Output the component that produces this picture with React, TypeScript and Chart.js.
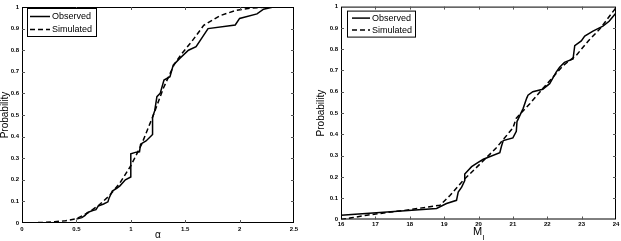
import React, { useEffect, useRef } from "react";
import { Chart, registerables } from "chart.js";

Chart.register(...registerables);

// ---------- Data ----------
const seriesLabels = ["Observed", "Simulated"];

// Left panel: alpha
const alphaObsX = [0.5, 0.55, 0.58, 0.6, 0.65, 0.68, 0.7, 0.75, 0.79, 0.8, 0.83, 0.87, 0.9, 0.95, 1.0, 1.0, 1.05, 1.08, 1.09, 1.14, 1.2, 1.2, 1.22, 1.24, 1.27, 1.305, 1.36, 1.39, 1.45, 1.53, 1.6, 1.64, 1.71, 1.96, 2.0, 2.16, 2.22, 2.31, 2.5];
const alphaObsY = [0.018, 0.025, 0.035, 0.048, 0.058, 0.062, 0.078, 0.088, 0.098, 0.115, 0.148, 0.16, 0.172, 0.2, 0.213, 0.32, 0.328, 0.33, 0.365, 0.38, 0.41, 0.49, 0.52, 0.585, 0.6, 0.662, 0.677, 0.731, 0.762, 0.8, 0.816, 0.847, 0.9, 0.917, 0.947, 0.968, 0.99, 1.0, 1.0];
const alphaSimX = [0.0, 0.1, 0.2, 0.3, 0.4, 0.5, 0.6, 0.7, 0.8, 0.9, 1.0, 1.1, 1.2, 1.3, 1.4, 1.47, 1.56, 1.67, 1.82, 1.97, 2.1, 2.28, 2.5];
const alphaSimY = [0.0, 0.001, 0.003, 0.006, 0.01, 0.02, 0.045, 0.08, 0.125, 0.185, 0.265, 0.365, 0.49, 0.625, 0.735, 0.785, 0.84, 0.915, 0.96, 0.985, 0.995, 1.0, 1.0];
const alphaTicksX = [0, 0.5, 1, 1.5, 2, 2.5];

// Right panel: M_l
const mObsX = [16.0, 18.78, 19.07, 19.36, 19.41, 19.51, 19.6, 19.6, 19.8, 19.99, 20.14, 20.62, 20.67, 20.72, 21.0, 21.1, 21.12, 21.3, 21.4, 21.44, 21.58, 21.87, 22.07, 22.26, 22.36, 22.5, 22.75, 22.8, 22.99, 23.09, 23.33, 23.62, 23.8, 23.92, 24.0];
const mObsY = [0.02, 0.052, 0.075, 0.09, 0.129, 0.152, 0.183, 0.214, 0.248, 0.268, 0.283, 0.314, 0.345, 0.371, 0.383, 0.414, 0.46, 0.522, 0.569, 0.584, 0.6, 0.612, 0.638, 0.692, 0.715, 0.738, 0.754, 0.816, 0.839, 0.862, 0.885, 0.908, 0.931, 0.955, 0.97];
const mSimX = [16.0, 16.3, 16.75, 17.3, 17.9, 18.5, 18.88, 19.17, 19.55, 20.04, 20.52, 21.0, 21.1, 21.5, 21.87, 22.46, 22.84, 23.2, 23.52, 24.0];
const mSimY = [0.0, 0.008, 0.02, 0.032, 0.044, 0.058, 0.067, 0.113, 0.183, 0.26, 0.337, 0.43, 0.476, 0.545, 0.615, 0.723, 0.77, 0.84, 0.893, 0.995];
const mTicksX = [16, 17, 18, 19, 20, 21, 22, 23, 24];

const probTicks = [0, 0.1, 0.2, 0.3, 0.4, 0.5, 0.6, 0.7, 0.8, 0.9, 1];

const FONT = "'Liberation Sans', Arial, Helvetica, sans-serif";

const zip = (xs: number[], ys: number[]) => xs.map((x, i) => ({ x, y: ys[i] }));
const fmt = (v: number) => String(Math.round(Number(v) * 100) / 100);

// ---------- Plugins ----------
const framePlugin = {
  id: "frame",
  afterDatasetsDraw(chart: any) {
    const { ctx, chartArea, scales } = chart;
    const { left, right, top, bottom } = chartArea;
    ctx.save();
    ctx.strokeStyle = "#000";
    ctx.lineWidth = 1;
    ctx.strokeRect(left + 0.5, top + 0.5, right - left - 1, bottom - top - 1);
    ctx.strokeStyle = "#555";
    const tl = 3;
    ctx.beginPath();
    scales.x.ticks.forEach((t: any) => {
      const px = Math.round(scales.x.getPixelForValue(t.value)) + 0.5;
      if (px <= left + 1 || px >= right - 1) return;
      ctx.moveTo(px, bottom);
      ctx.lineTo(px, bottom - tl);
      ctx.moveTo(px, top);
      ctx.lineTo(px, top + tl);
    });
    scales.y.ticks.forEach((t: any) => {
      const py = Math.round(scales.y.getPixelForValue(t.value)) + 0.5;
      if (py <= top + 1 || py >= bottom - 1) return;
      ctx.moveTo(left, py);
      ctx.lineTo(left + tl, py);
      ctx.moveTo(right, py);
      ctx.lineTo(right - tl, py);
    });
    ctx.stroke();
    ctx.restore();
  },
};

const boxLegendPlugin = {
  id: "boxLegend",
  afterDraw(chart: any, _args: any, opts: any) {
    if (!opts || !opts.w) return;
    const { ctx, chartArea } = chart;
    const bx = chartArea.left + opts.dx;
    const by = chartArea.top + opts.dy;
    ctx.save();
    ctx.fillStyle = "#fff";
    ctx.fillRect(bx, by, opts.w, opts.h);
    ctx.strokeStyle = "#000";
    ctx.lineWidth = 1;
    ctx.strokeRect(bx + 0.5, by + 0.5, opts.w, opts.h);
    chart.data.datasets.forEach((ds: any, i: number) => {
      const ry = by + opts.rows[i];
      ctx.beginPath();
      ctx.setLineDash(ds.borderDash || []);
      ctx.strokeStyle = ds.borderColor;
      ctx.lineWidth = ds.borderWidth;
      ctx.moveTo(bx + opts.l0, ry);
      ctx.lineTo(bx + opts.l1, ry);
      ctx.stroke();
      ctx.setLineDash([]);
      ctx.fillStyle = "#000";
      ctx.font = `9px ${FONT}`;
      ctx.textAlign = "left";
      ctx.textBaseline = "middle";
      ctx.fillText(ds.label, bx + opts.tx, ry);
    });
    ctx.restore();
  },
};

const subTitlePlugin = {
  id: "subTitle",
  afterDraw(chart: any, _args: any, opts: any) {
    if (!opts || !opts.main) return;
    const { ctx, chartArea } = chart;
    const cx = (chartArea.left + chartArea.right) / 2;
    ctx.save();
    ctx.fillStyle = "#000";
    ctx.textBaseline = "alphabetic";
    ctx.font = `11px ${FONT}`;
    const mw = ctx.measureText(opts.main).width;
    ctx.font = `8px ${FONT}`;
    const sw = ctx.measureText(opts.sub).width;
    const x0 = cx - (mw + sw) / 2;
    ctx.font = `11px ${FONT}`;
    ctx.textAlign = "left";
    ctx.fillText(opts.main, x0, chartArea.bottom + opts.mainY);
    ctx.font = `8px ${FONT}`;
    ctx.fillText(opts.sub, x0 + mw + 0.5, chartArea.bottom + opts.subY);
    ctx.restore();
  },
};

// ---------- Chart factory ----------
type PanelCfg = {
  obs: { x: number; y: number }[];
  sim: { x: number; y: number }[];
  xMin: number;
  xMax: number;
  xTicks: number[];
  yAxisWidth: number;
  xAxisHeight: number;
  padding: { top: number; right: number; left: number; bottom: number };
  yTitlePad: number;
  xTickPad: number;
  xTitle: string;
  xTitlePad: number;
  legend: any;
  sub: any;
};

function makeConfig(p: PanelCfg): any {
  return {
    type: "scatter",
    data: {
      datasets: [
        {
          label: seriesLabels[0],
          data: p.obs,
          showLine: true,
          borderColor: "#000",
          backgroundColor: "#000",
          borderWidth: 1.5,
          pointRadius: 0,
          tension: 0,
        },
        {
          label: seriesLabels[1],
          data: p.sim,
          showLine: true,
          borderColor: "#000",
          backgroundColor: "#000",
          borderWidth: 1.5,
          borderDash: [5, 3],
          pointRadius: 0,
          tension: 0,
        },
      ],
    },
    options: {
      responsive: false,
      animation: false,
      devicePixelRatio: 1,
      layout: { padding: p.padding },
      plugins: {
        legend: { display: false },
        tooltip: { enabled: false },
        boxLegend: p.legend,
        subTitle: p.sub,
      },
      scales: {
        x: {
          type: "linear",
          min: p.xMin,
          max: p.xMax,
          afterBuildTicks: (scale: any) => {
            scale.ticks = p.xTicks.map((v) => ({ value: v }));
          },
          afterFit: (scale: any) => {
            scale.height = p.xAxisHeight;
          },
          grid: { display: false, drawTicks: false },
          border: { display: false },
          ticks: {
            autoSkip: false,
            maxRotation: 0,
            padding: p.xTickPad,
            color: "#000",
            font: { size: 6, weight: "bold", family: FONT },
            callback: (v: any) => fmt(v),
          },
          title: {
            display: !!p.xTitle,
            text: p.xTitle,
            color: "#000",
            padding: { top: 0, bottom: p.xTitlePad },
            font: { size: 10, family: FONT, lineHeight: 1 },
          },
        },
        y: {
          type: "linear",
          min: 0,
          max: 1,
          afterBuildTicks: (scale: any) => {
            scale.ticks = probTicks.map((v) => ({ value: v }));
          },
          afterFit: (scale: any) => {
            scale.width = p.yAxisWidth;
          },
          grid: { display: false, drawTicks: false },
          border: { display: false },
          ticks: {
            autoSkip: false,
            padding: 3,
            color: "#000",
            font: { size: 6, weight: "bold", family: FONT },
            callback: (v: any) => fmt(v),
          },
          title: {
            display: true,
            text: "Probability",
            color: "#000",
            padding: { top: p.yTitlePad, bottom: 0 },
            font: { size: 10, family: FONT, lineHeight: 1 },
          },
        },
      },
    },
    plugins: [framePlugin, boxLegendPlugin, subTitlePlugin],
  };
}

function Panel({ cfg, width, height, left }: { cfg: PanelCfg; width: number; height: number; left: number }) {
  const ref = useRef<HTMLCanvasElement | null>(null);
  useEffect(() => {
    if (!ref.current) return;
    const chart = new Chart(ref.current, makeConfig(cfg));
    return () => chart.destroy();
  }, []);
  return (
    <canvas
      ref={ref}
      width={width}
      height={height}
      style={{ position: "absolute", left, top: 0, width, height }}
    />
  );
}

const leftCfg: PanelCfg = {
  obs: zip(alphaObsX, alphaObsY),
  sim: zip(alphaSimX, alphaSimY),
  xMin: 0,
  xMax: 2.5,
  xTicks: alphaTicksX,
  yAxisWidth: 22,
  xAxisHeight: 18,
  padding: { top: 7, right: 11, left: 0, bottom: 0 },
  yTitlePad: 0,
  xTickPad: 3,
  xTitle: "α",
  xTitlePad: 0.5,
  legend: { dx: 5, dy: 1, w: 69, h: 28, rows: [8.5, 21.5], l0: 3, l1: 23, tx: 25 },
  sub: {},
};

const rightCfg: PanelCfg = {
  obs: zip(mObsX, mObsY),
  sim: zip(mSimX, mSimY),
  xMin: 16,
  xMax: 24,
  xTicks: mTicksX,
  yAxisWidth: 36,
  xAxisHeight: 21.5,
  padding: { top: 3, right: 5, left: 0, bottom: 0 },
  yTitlePad: 11.5,
  xTickPad: 1.5,
  xTitle: "",
  xTitlePad: 0,
  legend: { dx: 6, dy: 4, w: 68, h: 26, rows: [7.5, 19.5], l0: 5, l1: 23, tx: 25 },
  sub: { main: "M", sub: "l", mainY: 15.5, subY: 20.5 },
};

export default function App() {
  return (
    <div style={{ position: "absolute", left: 0, top: 0, width: 621, height: 241, background: "#fff" }}>
      <Panel cfg={leftCfg} width={305} height={241} left={0} />
      <Panel cfg={rightCfg} width={316} height={241} left={305} />
    </div>
  );
}
